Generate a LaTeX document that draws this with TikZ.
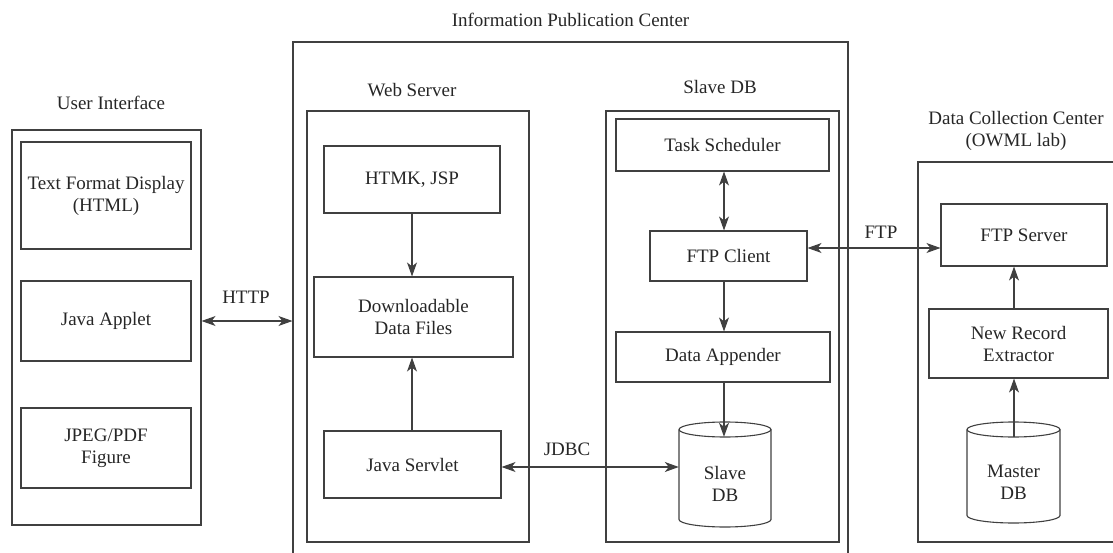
\documentclass[tikz,border=0pt]{standalone}
\usepackage{fontspec}
\setmainfont{Liberation Serif}
\usetikzlibrary{arrows.meta,calc}
\begin{document}
\begin{tikzpicture}[x=1pt,y=-1pt,
  every node/.style={font=\fontsize{19}{22}\selectfont, text=black!85},
  box/.style={draw=black!75, line width=1.1pt, rectangle, inner sep=0pt, align=center},
  lbl/.style={align=center, inner sep=0pt},
  conn/.style={draw=black!75, line width=1.1pt, -{Stealth[length=14pt,width=10pt,inset=4pt]}},
  bconn/.style={draw=black!75, line width=1.1pt, {Stealth[length=14pt,width=10pt,inset=4pt]}-{Stealth[length=14pt,width=10pt,inset=4pt]}},
  cylline/.style={draw=black!75, line width=1.1pt}]
\useasboundingbox (0,0) rectangle (1113,553);
\clip (0,0) rectangle (1113,553);

% User Interface
\node[lbl] (uilbl) at (111,103) {User Interface};
\node[box, minimum width=189pt, minimum height=395pt] (ui) at (106.5,327.5) {};
\node[box, minimum width=170pt, minimum height=107pt] (tfd) at (106,195.5) {Text Format Display\\(HTML)};
\node[box, minimum width=170pt, minimum height=80pt] (ja) at (106,321) {Java Applet};
\node[box, minimum width=170pt, minimum height=80pt] (jpg) at (106,448) {JPEG/PDF\\Figure};

% Information Publication Center
\node[lbl] (ipclbl) at (570.5,20) {Information Publication Center};
\node[box, minimum width=555pt, minimum height=520pt] (ipc) at (570.5,302) {};

% Web Server
\node[lbl] (wslbl) at (412,90) {Web Server};
\node[box, minimum width=222pt, minimum height=431pt] (ws) at (418,326.5) {};
\node[box, minimum width=176pt, minimum height=67pt] (htmk) at (412,179.5) {HTMK, JSP};
\node[box, minimum width=199pt, minimum height=80pt] (ddf) at (413.5,317) {Downloadable\\Data Files};
\node[box, minimum width=177pt, minimum height=67pt] (jsv) at (412.5,464.5) {Java Servlet};

% Slave DB
\node[lbl] (sdblbl) at (720,87) {Slave DB};
\node[box, minimum width=233pt, minimum height=431pt] (sdbbox) at (722.5,326.5) {};
\node[box, minimum width=213pt, minimum height=52pt] (ts) at (722.5,145) {Task Scheduler};
\node[box, minimum width=157pt, minimum height=50pt] (ftpc) at (728.5,256) {FTP Client};
\node[box, minimum width=214pt, minimum height=50pt] (da) at (723,357) {Data Appender};
% cylinder Slave DB: x 679-771, y 422-527
\node[inner sep=0pt, minimum width=92pt, minimum height=105pt] (sdb) at (725,474.5) {};
\draw[cylline] (679,429.5) -- (679,519.5) arc[start angle=180, end angle=0, x radius=46, y radius=7.5] -- (771,429.5);
\draw[cylline] (725,429.5) ellipse [x radius=46, y radius=7.5];
\node[lbl] (sdbtxt) at (725,484) {Slave\\DB};

% Data Collection Center
\node[lbl] (dcclbl) at (1016,130.5) {Data Collection Center\\(OWML lab)};
\node[box, minimum width=207pt, minimum height=380pt] (dcc) at (1021.5,352) {};
\node[box, minimum width=166pt, minimum height=62pt] (ftps) at (1024,235) {FTP Server};
\node[box, minimum width=179pt, minimum height=69pt] (nre) at (1018.5,343.5) {New Record\\Extractor};
% cylinder Master DB: x 967-1060, y 422-523
\node[inner sep=0pt, minimum width=93pt, minimum height=101pt] (mdb) at (1013.5,472.5) {};
\draw[cylline] (967,429.5) -- (967,515.5) arc[start angle=180, end angle=0, x radius=46.5, y radius=7.5] -- (1060,429.5);
\draw[cylline] (1013.5,429.5) ellipse [x radius=46.5, y radius=7.5];
\node[lbl] (mdbtxt) at (1013.5,482) {Master\\DB};

% connector labels
\node[lbl] (http) at (246,297) {HTTP};
\node[lbl] (jdbc) at (567,449) {JDBC};
\node[lbl] (ftp) at (881,232) {FTP};

% connectors
\draw[bconn] (ui.east |- ja.east) -- (ipc.west |- ja.east);
\draw[conn] (htmk.south) -- (htmk.south |- ddf.north);
\draw[conn] (htmk.south |- jsv.north) -- (htmk.south |- ddf.south);
\draw[bconn] (jsv.east |- 0,467) -- (sdb.west |- 0,467);
\draw[bconn] (ts.south -| 724,0) -- (ftpc.north -| 724,0);
\draw[conn] (ftpc.south -| 724,0) -- (da.north -| 724,0);
\draw[conn] (da.south -| 724,0) -- ($(sdb.north)+(-1,15)$);
\draw[bconn] (ftpc.east |- 0,248) -- (ftps.west |- 0,248);
\draw[conn] (nre.north -| 1014,0) -- (ftps.south -| 1014,0);
\draw[conn] ($(mdb.north)+(0.5,15)$) -- (nre.south -| 1014,0);
\end{tikzpicture}
\end{document}
